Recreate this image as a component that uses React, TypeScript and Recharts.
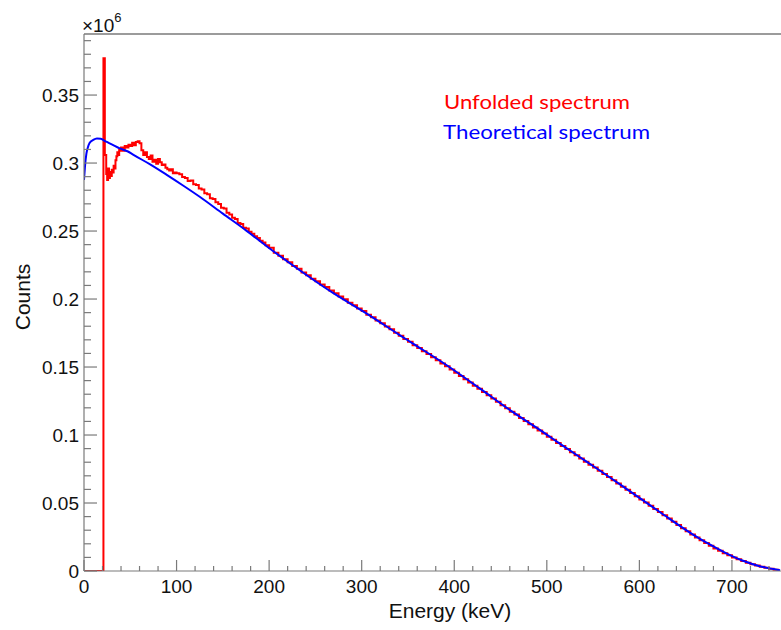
// App.tsx
import React from "react";
import { LineChart, Line, XAxis, YAxis, ReferenceLine } from "recharts";

// energies in keV, counts in units of 10^6
const redEnergy = [
  0, 21, 22.5, 24, 25, 26, 27, 28, 29, 30, 31, 32, 33, 34, 35, 36, 37, 38, 39, 40,
  42, 44, 46, 48, 50, 52, 54, 56, 58, 60, 62, 64, 66, 68, 70, 72, 74, 76, 78, 80,
  82, 84, 86, 88, 90, 92, 94, 96, 98, 100, 103, 106, 109, 112, 115, 118, 121, 124, 127, 130,
  133, 136, 139, 142, 145, 148, 151, 154, 157, 160, 163, 166, 169, 172, 175, 178, 181, 184, 187, 190,
  193, 196, 200, 205, 210, 215, 220, 225, 230, 235, 240, 245, 250,
  255, 260, 265, 270, 275, 280, 285, 290, 295, 300, 305, 310, 315, 320, 325, 330, 335, 340, 345, 350,
  355, 360, 365, 370, 375, 380, 385, 390, 395, 400, 405, 410, 415, 420, 425, 430, 435, 440, 445, 450,
  455, 460, 465, 470, 475, 480, 485, 490, 495, 500, 505, 510, 515, 520, 525, 530, 535, 540, 545, 550,
  555, 560, 565, 570, 575, 580, 585, 590, 595, 600, 605, 610, 615, 620, 625, 630, 635, 640, 645, 650,
  655, 660, 665, 670, 675, 680, 685, 690, 695, 700, 705, 710, 715, 720, 725, 730, 735, 740, 745, 750,
];
const redCounts = [
  0, 0.377, 0.306, 0.292, 0.2875, 0.296, 0.289, 0.2935, 0.2905, 0.295, 0.293, 0.298, 0.296, 0.302, 0.305, 0.308, 0.306, 0.31, 0.309, 0.3115,
  0.309, 0.3125, 0.3115, 0.3135, 0.3125, 0.315, 0.313, 0.3155, 0.316, 0.3145, 0.3095, 0.306, 0.308, 0.3045, 0.303, 0.3055, 0.301, 0.3025, 0.2995, 0.303,
  0.3005, 0.2985, 0.299, 0.2965, 0.2955, 0.2945, 0.2955, 0.2925, 0.293, 0.2925, 0.2918, 0.2898, 0.289, 0.2868, 0.2872, 0.2845, 0.2838, 0.2812, 0.2805, 0.2778,
  0.277, 0.2742, 0.2735, 0.2712, 0.2698, 0.2672, 0.2665, 0.2635, 0.2622, 0.2598, 0.2588, 0.256, 0.2552, 0.2525, 0.2518, 0.2495, 0.248, 0.2462, 0.2448, 0.2428,
  0.2415, 0.2395, 0.2378, 0.234, 0.2318, 0.2292, 0.227, 0.2243, 0.2222, 0.2196, 0.2175, 0.215, 0.213,
  0.2106, 0.2088, 0.2062, 0.2042, 0.2018, 0.1998, 0.1973, 0.1955, 0.193, 0.1912, 0.1885, 0.1866, 0.1842, 0.1822, 0.1798, 0.1777, 0.1752, 0.173, 0.1707, 0.1686,
  0.166, 0.164, 0.1616, 0.1595, 0.1572, 0.155, 0.1526, 0.1505, 0.1481, 0.1458, 0.1434, 0.141, 0.1387, 0.1363, 0.134, 0.1316, 0.1293, 0.1269, 0.1245, 0.1219,
  0.1197, 0.1172, 0.115, 0.1126, 0.1103, 0.108, 0.1056, 0.1034, 0.1011, 0.0988, 0.0966, 0.0942, 0.092, 0.0897, 0.0873, 0.0851, 0.0828, 0.0804, 0.0782, 0.0761,
  0.0738, 0.0714, 0.0691, 0.0667, 0.0644, 0.062, 0.0597, 0.0573, 0.055, 0.0526, 0.0503, 0.048, 0.0456, 0.0433, 0.041, 0.0386, 0.0362, 0.0339, 0.0315, 0.0292,
  0.0269, 0.0247, 0.0226, 0.0205, 0.0185, 0.0166, 0.0148, 0.0131, 0.0115, 0.01, 0.0086, 0.0073, 0.0061, 0.005, 0.004, 0.0031, 0.0023, 0.0016, 0.001, 0.0004,
];

const blueEnergy = [
  0, 1, 2.6, 4, 6, 10, 14, 18, 24, 30, 38.6, 47.5, 53, 71, 89, 107, 125, 150, 175, 197,
  233, 269, 305, 341, 355, 391.5, 427.5, 463.5, 499.5, 514, 535.5, 550, 586, 622, 658, 676, 694, 712, 730, 752,
];
const blueCounts = [
  0.2875, 0.297, 0.307, 0.311, 0.3147, 0.317, 0.318, 0.3178, 0.3157, 0.3138, 0.3108, 0.3085, 0.3062, 0.2992, 0.2915, 0.2835, 0.2752, 0.2628, 0.2505, 0.239,
  0.2212, 0.2045, 0.1895, 0.1735, 0.1674, 0.1515, 0.1343, 0.1168, 0.1005, 0.0937, 0.0838, 0.0772, 0.0604, 0.0434, 0.0268, 0.0195, 0.013, 0.0075, 0.0035, 0.0005,
];

const xMajorLabels = ["0", "100", "200", "300", "400", "500", "600", "700"];
const yMajorLabels = ["0", "0.05", "0.1", "0.15", "0.2", "0.25", "0.3", "0.35"];

const redData = redEnergy.map((e, i) => ({ e, v: redCounts[i] }));
const blueData = blueEnergy.map((e, i) => ({ e, v: blueCounts[i] }));

const W = 781;
const H = 630;
const X_MAX = 753;
const Y_MAX = 0.3949;
const AXIS = "#7a7a7a";
const FONT = "'Liberation Sans', Arial, sans-serif";

const xTicks = Array.from({ length: 38 }, (_, i) => i * 20);
const yTicks = Array.from({ length: 40 }, (_, i) => i / 100);

const XTick = (props: any) => {
  const { x, y, payload } = props;
  const i = Math.round(payload.value / 20);
  const major = i % 5 === 0;
  return (
    <g>
      <line x1={x} x2={x} y1={y} y2={y - (major ? 11 : 5)} stroke={AXIS} strokeWidth={1.2} />
      {major && (
        <text x={x} y={y + 15} dy="0.35em" textAnchor="middle" fontSize={19} fill="#111" fontFamily={FONT}>
          {xMajorLabels[i / 5]}
        </text>
      )}
    </g>
  );
};

const YTick = (props: any) => {
  const { x, y, payload } = props;
  const i = Math.round(payload.value * 100);
  const major = i % 5 === 0;
  return (
    <g>
      <line x1={x} x2={x + (major ? 13 : 7)} y1={y} y2={y} stroke={AXIS} strokeWidth={1.2} />
      {major && (
        <text x={x - 5} y={y} dy="0.35em" textAnchor="end" fontSize={19} fill="#111" fontFamily={FONT}>
          {yMajorLabels[i / 5]}
        </text>
      )}
    </g>
  );
};

export default function App() {
  return (
    <div style={{ position: "absolute", left: 0, top: 0, width: W, height: H, background: "#fff" }}>
      <LineChart width={W} height={H} margin={{ top: 34, right: 0, bottom: 0, left: 0 }}>
        <XAxis
          dataKey="e"
          type="number"
          domain={[0, X_MAX]}
          allowDataOverflow
          ticks={xTicks}
          interval={0}
          tick={<XTick />}
          tickLine={false}
          tickSize={0}
          tickMargin={0}
          height={59}
          axisLine={{ stroke: AXIS, strokeWidth: 1.2 }}
        />
        <YAxis
          dataKey="v"
          type="number"
          domain={[0, Y_MAX]}
          allowDataOverflow
          ticks={yTicks}
          interval={0}
          tick={<YTick />}
          tickLine={false}
          tickSize={0}
          tickMargin={0}
          width={84}
          axisLine={{ stroke: AXIS, strokeWidth: 1.2 }}
        />
        <ReferenceLine y={Y_MAX} stroke={AXIS} strokeWidth={1.5} ifOverflow="extendDomain" />
        <Line
          data={redData}
          dataKey="v"
          type="stepAfter"
          stroke="#ff0000"
          strokeWidth={2}
          dot={false}
          isAnimationActive={false}
        />
        <Line
          data={blueData}
          dataKey="v"
          type="monotone"
          stroke="#0000ff"
          strokeWidth={2}
          dot={false}
          isAnimationActive={false}
        />
      </LineChart>
      <svg
        width={W}
        height={H}
        style={{ position: "absolute", left: 0, top: 0, pointerEvents: "none" }}
      >
        <text x={82} y={32} fontSize={19} fill="#111" fontFamily={FONT}>
          ×10
          <tspan dy={-10} fontSize={13}>6</tspan>
        </text>
        <text
          transform="translate(30, 297) rotate(-90)"
          textAnchor="middle"
          fontSize={21}
          fill="#111"
          fontFamily={FONT}
        >
          Counts
        </text>
        <text x={450} y={618} textAnchor="middle" fontSize={21} fill="#111" fontFamily={FONT}>
          Energy (keV)
        </text>
        <text x={444} y={109} fontSize={20} fill="#ff0000" fontFamily="Lato, sans-serif" textLength={186} lengthAdjust="spacingAndGlyphs">
          Unfolded spectrum
        </text>
        <text x={443} y={139} fontSize={20} fill="#0000ff" fontFamily="Lato, sans-serif" textLength={207} lengthAdjust="spacingAndGlyphs">
          Theoretical spectrum
        </text>
      </svg>
    </div>
  );
}
